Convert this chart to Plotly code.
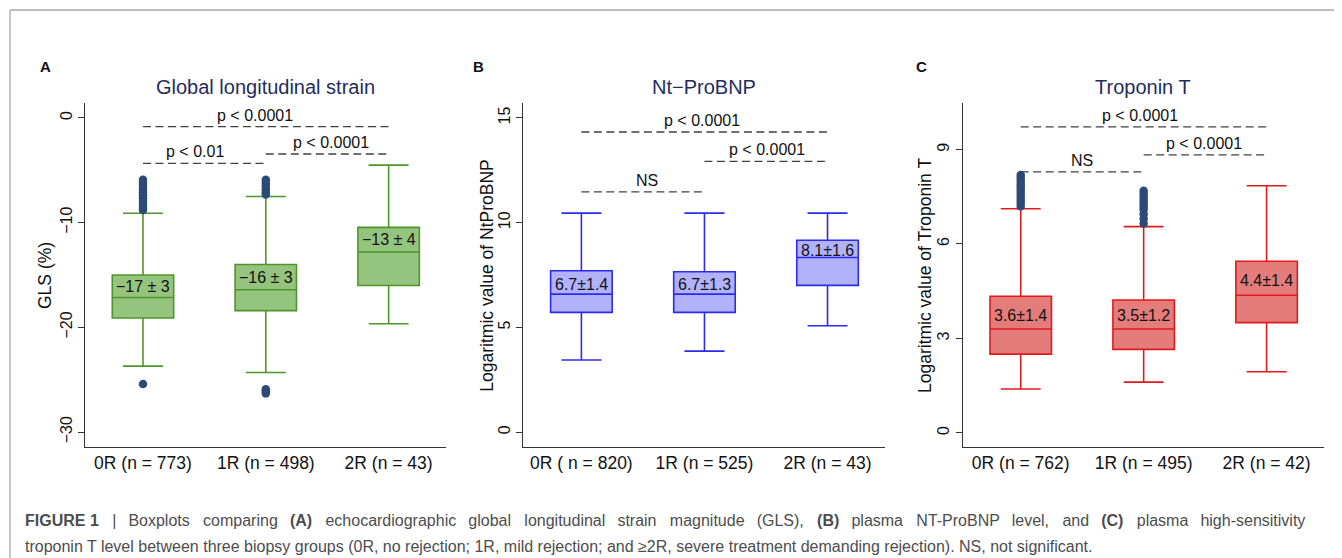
import plotly.graph_objects as go

# the page body has an 8px margin, so the figure is laid out in window pixels minus 8
OFF = 8
W, H = 1342 - OFF, 558 - OFF
FONT = "Liberation Sans, Arial, Helvetica, sans-serif"


def px(xp):
    return (xp - OFF) / W


def py(yp):
    return 1 - (yp - OFF) / H


# ---------------- data ----------------
gls_labels = ["0R (n = 773)", "1R (n = 498)", "2R (n = 43)"]
gls_q1 = [-19.1, -18.4, -16.0]
gls_median = [-17.15, -16.4, -12.8]
gls_q3 = [-15.0, -14.0, -10.45]
gls_low = [-23.7, -24.3, -19.65]
gls_high = [-9.1, -7.5, -4.5]
gls_out_0R = [-5.9, -6.2, -6.5, -6.8, -7.1, -7.4, -7.7, -8.0, -8.3, -8.6, -8.8, -25.4]
gls_out_1R = [-5.9, -6.2, -6.5, -6.8, -7.1, -7.3, -25.9, -26.1, -26.3]
gls_out_2R = []
gls_text = ["\u221217 \u00b1 3", "\u221216 \u00b1 3", "\u221213 \u00b1 4"]
gls_text_y = [-16.1, -15.25, -11.6]

bnp_labels = ["0R ( n = 820)", "1R (n = 525)", "2R (n = 43)"]
bnp_q1 = [5.72, 5.72, 7.01]
bnp_median = [6.59, 6.59, 8.34]
bnp_q3 = [7.71, 7.66, 9.16]
bnp_low = [3.45, 3.87, 5.08]
bnp_high = [10.46, 10.46, 10.46]
bnp_text = ["6.7\u00b11.4", "6.7\u00b11.3", "8.1\u00b11.6"]
bnp_text_y = [7.07, 7.07, 8.69]

tnt_labels = ["0R (n = 762)", "1R (n = 495)", "2R (n = 42)"]
tnt_q1 = [2.50, 2.65, 3.50]
tnt_median = [3.30, 3.30, 4.37]
tnt_q3 = [4.34, 4.22, 5.45]
tnt_low = [1.39, 1.61, 1.94]
tnt_high = [7.12, 6.55, 7.85]
tnt_out_0R = [7.2, 7.3, 7.4, 7.5, 7.6, 7.7, 7.8, 7.9, 8.0, 8.1, 8.19]
tnt_out_1R = [6.65, 6.8, 6.95, 7.1, 7.2, 7.3, 7.4, 7.5, 7.6, 7.69]
tnt_out_2R = []
tnt_text = ["3.6\u00b11.4", "3.5\u00b11.2", "4.4\u00b11.4"]
tnt_text_y = [3.74, 3.72, 4.85]

# significance brackets: (x0, x1, y, label, label_x)
gls_sig = [(0, 2, -0.83, "p < 0.0001", 0.91),
           (1, 2, -3.44, "p < 0.0001", 1.53),
           (0, 1, -4.33, "p < 0.01", 0.42)]
bnp_sig = [(0, 2, 14.33, "p < 0.0001", 0.98),
           (1, 2, 12.93, "p < 0.0001", 1.51),
           (0, 1, 11.47, "NS", 0.53)]
tnt_sig = [(0, 2, 9.72, "p < 0.0001", 0.97),
           (1, 2, 8.83, "p < 0.0001", 1.49),
           (0, 1, 8.29, "NS", 0.50)]

panels = [
    dict(letter="A", title="Global longitudinal strain", ytitle="GLS (%)",
         labels=gls_labels, q1=gls_q1, med=gls_median, q3=gls_q3, lo=gls_low, hi=gls_high,
         outs=[gls_out_0R, gls_out_1R, gls_out_2R], text=gls_text, text_y=gls_text_y,
         sig=gls_sig, yrange=[-31.45, 1.4], ytick=[0, -10, -20, -30],
         line="#4f962a", fill="#95c47e", dom=(85, 446), ytitle_x=45, letter_x=45.7,
         title_x=265),
    dict(letter="B", title="Nt\u2212ProBNP", ytitle="Logaritmic value of NtProBNP",
         labels=bnp_labels, q1=bnp_q1, med=bnp_median, q3=bnp_q3, lo=bnp_low, hi=bnp_high,
         outs=[[], [], []], text=bnp_text, text_y=bnp_text_y,
         sig=bnp_sig, yrange=[-0.72, 15.70], ytick=[0, 5, 10, 15],
         line="#2b2bf0", fill="#b2b2fb", dom=(523.3, 885), ytitle_x=486.7, letter_x=478.3,
         title_x=704),
    dict(letter="C", title="Troponin T", ytitle="Logaritmic value of Troponin T",
         labels=tnt_labels, q1=tnt_q1, med=tnt_median, q3=tnt_q3, lo=tnt_low, hi=tnt_high,
         outs=[tnt_out_0R, tnt_out_1R, tnt_out_2R], text=tnt_text, text_y=tnt_text_y,
         sig=tnt_sig, yrange=[-0.46, 10.47], ytick=[0, 3, 6, 9],
         line="#e31a1c", fill="#e57c7c", dom=(962.7, 1324), ytitle_x=925, letter_x=921.7,
         title_x=1143.3),
]

fig = go.Figure()
Y_TOP, Y_BOT = 103.3, 447.3
shapes = []
annotations = []

for i, p in enumerate(panels):
    n = "" if i == 0 else str(i + 1)
    xa, ya = "x" + n, "y" + n
    cats = list(range(len(p["labels"])))
    fig.add_trace(go.Box(
        x=cats, q1=p["q1"], median=p["med"], q3=p["q3"],
        lowerfence=p["lo"], upperfence=p["hi"],
        width=0.5, whiskerwidth=0.65, boxpoints=False,
        fillcolor=p["fill"], line=dict(color=p["line"], width=1.6),
        xaxis=xa, yaxis=ya, showlegend=False, hoverinfo="skip"))
    for c, outs in zip(cats, p["outs"]):
        if outs:
            fig.add_trace(go.Scatter(
                x=[c] * len(outs), y=outs, mode="markers",
                marker=dict(color="#2c4a78", size=8.5),
                xaxis=xa, yaxis=ya, showlegend=False, hoverinfo="skip"))
    for c, t, ty in zip(cats, p["text"], p["text_y"]):
        annotations.append(dict(x=c, y=ty, xref=xa, yref=ya, text=t, showarrow=False,
                                xanchor="center", yanchor="middle",
                                font=dict(size=16, color="#111", family=FONT)))
    for (x0, x1, yy, lab, lx) in p["sig"]:
        shapes.append(dict(type="line", xref=xa, yref=ya, x0=x0, x1=x1, y0=yy, y1=yy,
                           line=dict(color="#404040", width=1.3, dash="8px,4.5px")))
        annotations.append(dict(x=lx, y=yy, xref=xa, yref=ya, text=lab, showarrow=False,
                                xanchor="center", yanchor="bottom", yshift=1,
                                font=dict(size=16, color="#111", family=FONT)))
    d0, d1 = p["dom"]
    fig.layout["xaxis" + n] = dict(
        domain=[px(d0), px(d1)], range=[-0.472, 2.467], anchor=ya,
        tickvals=cats, ticktext=p["labels"], ticks="", showline=True,
        linecolor="#333", linewidth=1.2, showgrid=False, zeroline=False,
        tickfont=dict(size=17.5, color="#111", family=FONT))
    fig.layout["yaxis" + n] = dict(
        domain=[py(Y_BOT), py(Y_TOP)], range=p["yrange"], anchor=xa,
        tickvals=p["ytick"], ticktext=[str(v).replace("-", "\u2212") for v in p["ytick"]],
        tickangle=-90, ticks="outside", ticklen=6, tickcolor="#333",
        showline=True, linecolor="#333", linewidth=1.2, showgrid=False, zeroline=False,
        tickfont=dict(size=16, color="#111", family=FONT))
    # y-axis title
    annotations.append(dict(x=px(p["ytitle_x"]), y=py(276), xref="paper", yref="paper",
                            text=p["ytitle"], textangle=-90, showarrow=False,
                            xanchor="center", yanchor="middle",
                            font=dict(size=17.5, color="#111", family=FONT)))
    # panel title
    annotations.append(dict(x=px(p["title_x"]), y=py(87.3), xref="paper", yref="paper",
                            text=p["title"], showarrow=False,
                            xanchor="center", yanchor="middle",
                            font=dict(size=20, color="#1f2d5e", family=FONT)))
    # panel letter
    annotations.append(dict(x=px(p["letter_x"]), y=py(66.7), xref="paper", yref="paper",
                            text="<b>" + p["letter"] + "</b>", showarrow=False,
                            xanchor="center", yanchor="middle",
                            font=dict(size=15, color="#111", family=FONT)))

# caption (first line is justified in the reference, so its word gaps are widened)
CAP_FONT = FONT
cap1_words = ["<b>FIGURE 1</b>", "|", "Boxplots", "comparing", "<b>(A)</b>", "echocardiographic",
              "global", "longitudinal", "strain", "magnitude", "(GLS),", "<b>(B)</b>", "plasma",
              "NT-ProBNP", "level,", "and", "<b>(C)</b>", "plasma", "high-sensitivity"]
gaps = [" \u00a0\u00a0" if k % 2 == 0 else " \u00a0\u2009" for k in range(len(cap1_words) - 1)]
cap1 = cap1_words[0]
for g, w in zip(gaps, cap1_words[1:]):
    cap1 += g + w
cap2 = ("troponin T level between three biopsy groups (0R, no rejection; 1R, mild rejection; and "
        "\u22652R, severe treatment demanding rejection). NS, not significant.")
annotations.append(dict(x=px(23), y=py(520), xref="paper", yref="paper", text=cap1,
                        xanchor="left", yanchor="middle", showarrow=False,
                        font=dict(size=16, color="#4d4d4d", family=CAP_FONT)))
annotations.append(dict(x=px(23), y=py(546), xref="paper", yref="paper", text=cap2,
                        xanchor="left", yanchor="middle", showarrow=False,
                        font=dict(size=16, color="#4d4d4d", family=CAP_FONT)))

# frame
shapes.append(dict(type="line", xref="paper", yref="paper", x0=px(10), x1=1.01,
                   y0=py(10), y1=py(10), line=dict(color="#a8a8a8", width=1.3)))
shapes.append(dict(type="line", xref="paper", yref="paper", x0=px(10), x1=px(10),
                   y0=-0.02, y1=py(10), line=dict(color="#a8a8a8", width=1.3)))

fig.update_layout(width=W, height=H, margin=dict(l=0, r=0, t=0, b=0),
                  paper_bgcolor="white", plot_bgcolor="white",
                  shapes=shapes, annotations=annotations,
                  font=dict(family=FONT, color="#111"))
fig.write_html("out.html")
